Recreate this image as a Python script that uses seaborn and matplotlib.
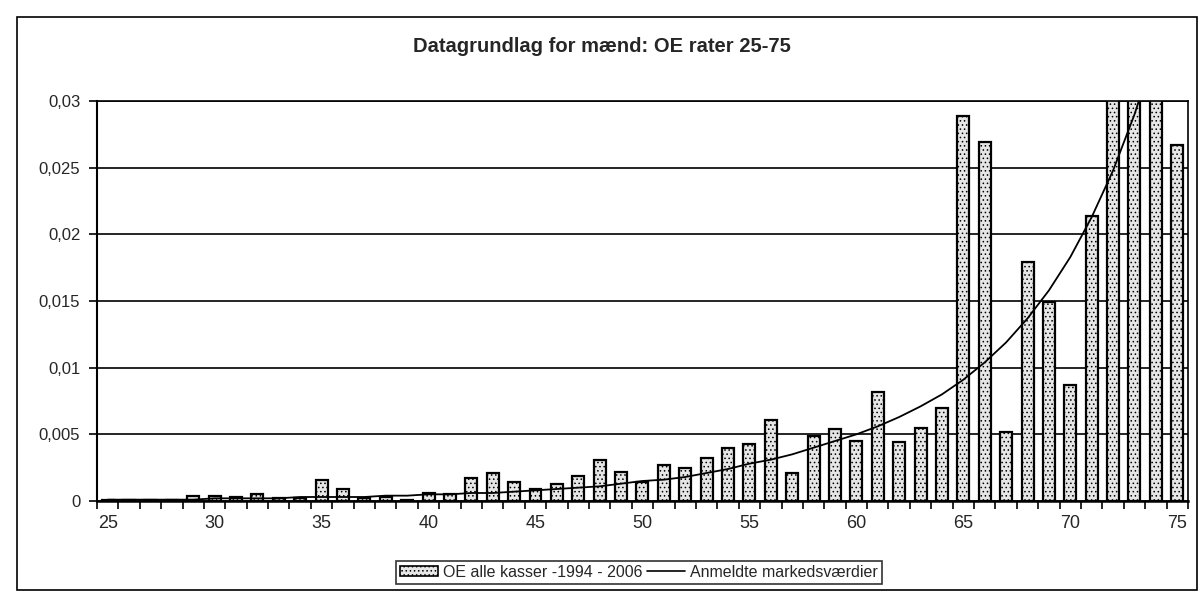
import matplotlib
matplotlib.use("Agg")
import matplotlib.pyplot as plt
import seaborn as sns
import pandas as pd
import numpy as np
from matplotlib.patches import Rectangle, Patch
from matplotlib.lines import Line2D
from matplotlib.ticker import FixedLocator, FuncFormatter

ages = list(range(25, 76))
oe_rates = [0.0001, 0.0001, 0.0001, 0.0001, 0.0004, 0.0004, 0.0003, 0.0005, 0.0002, 0.0002,
            0.0016, 0.0009, 0.0002, 0.0003, 0.0001, 0.0006, 0.0005, 0.0017, 0.0021, 0.0014,
            0.0009, 0.0013, 0.0019, 0.0031, 0.0022, 0.0014, 0.0027, 0.0025, 0.0032, 0.0040,
            0.0043, 0.0061, 0.0021, 0.0049, 0.0054, 0.0045, 0.0082, 0.0044, 0.0055, 0.0070,
            0.0289, 0.0269, 0.0052, 0.0179, 0.0149, 0.0087, 0.0214, 0.0340, 0.0380, 0.0430,
            0.0267]
market_values = [0.0001, 0.0001, 0.0001, 0.0001, 0.0001, 0.0002, 0.0002, 0.0002, 0.0002, 0.0003,
                 0.0003, 0.0003, 0.0003, 0.0004, 0.0004, 0.0005, 0.0005, 0.0006, 0.0006, 0.0007,
                 0.0008, 0.0009, 0.0010, 0.0011, 0.0013, 0.0015, 0.0016, 0.0018, 0.0021, 0.0024,
                 0.0028, 0.0031, 0.0035, 0.0040, 0.0045, 0.0050, 0.0056, 0.0063, 0.0071, 0.0080,
                 0.0091, 0.0104, 0.0119, 0.0137, 0.0158, 0.0183, 0.0213, 0.0248, 0.0290, 0.0340,
                 0.0400]
y_ticks = [0, 0.005, 0.01, 0.015, 0.02, 0.025, 0.03]
label_ages = [25, 30, 35, 40, 45, 50, 55, 60, 65, 70, 75]

bar_label = "OE alle kasser -1994 - 2006"
line_label = "Anmeldte markedsværdier"
title = "Datagrundlag for mænd: OE rater 25-75"

df = pd.DataFrame({"Alder": ages, "OE": oe_rates, "Marked": market_values})

sns.set_style("white")
plt.rcParams["font.family"] = ["Liberation Sans", "DejaVu Sans"]
plt.rcParams["hatch.color"] = "#8a8a8a"
plt.rcParams["hatch.linewidth"] = 0.6

fig = plt.figure(figsize=(12.03, 5.95), dpi=100)
ax = fig.add_axes([0.0806, 0.158, 0.9069, 0.672])

for v in y_ticks:
  ax.axhline(v, color="black", lw=1.2, zorder=0)

sns.barplot(data=df, x="Alder", y="OE", ax=ax, width=0.56, color="#e6e6e6",
            edgecolor="black", linewidth=1.6, hatch="....", zorder=2)
sns.lineplot(x=np.arange(len(ages)), y=df["Marked"], ax=ax, color="black", lw=1.3, zorder=3)

ax.set_ylim(0, 0.03)
ax.set_xlim(-0.5, len(ages) - 0.5)
ax.set_xlabel("")
ax.set_ylabel("")
ax.yaxis.set_major_locator(FixedLocator(y_ticks))
ax.yaxis.set_major_formatter(FuncFormatter(lambda v, p: "0" if v == 0 else f"{v:g}".replace(".", ",")))
ax.set_xticks([ages.index(a) for a in label_ages])
ax.set_xticklabels([str(a) for a in label_ages])
ax.set_xticks(np.arange(len(ages) + 1) - 0.5, minor=True)
ax.tick_params(axis="x", which="major", length=0, labelsize=13, pad=10)
ax.tick_params(axis="x", which="minor", length=6, width=1.2, direction="out", color="black", bottom=True)
ax.tick_params(axis="y", length=6, width=1.2, direction="out", color="black", left=True, labelsize=12, pad=6)
for s in ax.spines.values():
  s.set_color("black")
  s.set_linewidth(1.2)
ax.spines["left"].set_linewidth(1.5)
ax.spines["bottom"].set_linewidth(1.8)

fig.text(0.5, 0.922, title, ha="center", va="center", fontsize=14.5, fontweight="bold")

handles = [Patch(facecolor="#e6e6e6", edgecolor="black", hatch="....", lw=1.2),
           Line2D([0], [0], color="black", lw=1.2)]
leg = fig.legend(handles, [bar_label, line_label], loc="center", bbox_to_anchor=(0.531, 0.0385),
                 ncol=2, fontsize=11.5, frameon=True, fancybox=False, handlelength=2.4,
                 handletextpad=0.3, columnspacing=0.3, borderpad=0.25, handleheight=0.6)
leg.get_frame().set_edgecolor("black")
leg.get_frame().set_linewidth(1.2)

fig.add_artist(Rectangle((0.0141, 0.008), 0.981, 0.963, transform=fig.transFigure,
                         fill=False, edgecolor="black", lw=1.2))

plt.savefig("out.png", dpi=100)
